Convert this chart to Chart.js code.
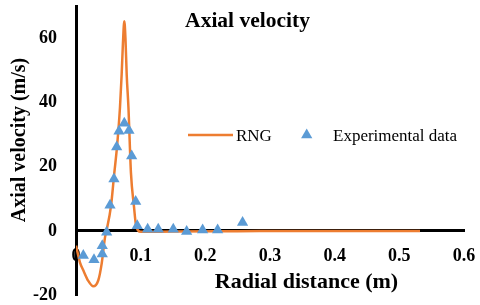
<!DOCTYPE html>
<html><head><meta charset="utf-8">
<script src="https://cdn.jsdelivr.net/npm/chart.js@4.4.1/dist/chart.umd.min.js"></script>
<style>html,body{margin:0;padding:0;background:#fff;} #wrap{width:480px;height:305px;position:relative;}</style>
</head><body><div id="wrap"><canvas id="c"></canvas></div>
<script>
const chartTitle = 'Axial velocity';
const xAxisTitle = 'Radial distance (m)';
const yAxisTitle = 'Axial velocity (m/s)';
const seriesNames = ['RNG', 'Experimental data'];
const xTickValues = [0, 0.1, 0.2, 0.3, 0.4, 0.5, 0.6];
const yTickValues = [-20, 0, 20, 40, 60];

const rngX = [0, 0.0062, 0.0113, 0.019, 0.0267, 0.0345, 0.0397, 0.0448, 0.0471, 0.0541, 0.0592, 0.0634, 0.068, 0.0706, 0.0726, 0.0747, 0.0765, 0.0784, 0.0811, 0.085, 0.0896, 0.0927, 0.0958, 0.1005, 0.15, 0.25, 0.35, 0.45, 0.532];
const rngY = [-4.6, -9.9, -12.3, -15.6, -17.3, -15.4, -10.2, -2.1, 0, 7.7, 18, 26.2, 38.5, 48.8, 58.6, 65.4, 60, 48.8, 38.5, 18, 7.7, 1.8, 0.2, -0.3, -0.2, -0.1, 0, 0, 0];

const expX = [0.0113, 0.0278, 0.0406, 0.0406, 0.0474, 0.0526, 0.0587, 0.0629, 0.0665, 0.0747, 0.0819, 0.0861, 0.0923, 0.0947, 0.1108, 0.1272, 0.1504, 0.1711, 0.1958, 0.2190, 0.2576];
const expY = [-7.7, -9.0, -7.2, -4.6, -0.4, 8.0, 16.2, 26.2, 31.1, 33.6, 31.3, 23.4, 9.2, 1.6, 0.5, 0.5, 0.5, -0.2, 0.3, 0.3, 2.6];

const orange = '#ED7D31';
const blue = '#5B9BD5';
const serif = '"Liberation Serif", "Times New Roman", serif';

const overlay = {
  id: 'overlay',
  afterDraw(chart) {
    const ctx = chart.ctx;
    ctx.save();
    ctx.fillStyle = '#000';
    ctx.textBaseline = 'alphabetic';
    // chart title
    ctx.font = 'bold 21.5px ' + serif;
    ctx.textAlign = 'center';
    ctx.fillText(chartTitle, 247.5, 27);
    // x axis title
    ctx.font = 'bold 22px ' + serif;
    ctx.fillText(xAxisTitle, 306.5, 288);
    // y axis title
    ctx.save();
    ctx.translate(25, 140);
    ctx.rotate(-Math.PI / 2);
    ctx.font = 'bold 20px ' + serif;
    ctx.fillText(yAxisTitle, 0, 0);
    ctx.restore();
    // legend
    ctx.strokeStyle = orange;
    ctx.lineWidth = 2.5;
    ctx.beginPath();
    ctx.moveTo(188, 135); ctx.lineTo(233, 135);
    ctx.stroke();
    ctx.font = '17px ' + serif;
    ctx.textAlign = 'left';
    ctx.fillText(seriesNames[0], 236, 141);
    ctx.fillText(seriesNames[1], 333, 141);
    ctx.fillStyle = blue;
    const r = 6.5, cx = 306.7, cy = 135;
    ctx.beginPath();
    ctx.moveTo(cx, cy - r);
    ctx.lineTo(cx + Math.sin(2*Math.PI/3) * r, cy - Math.cos(2*Math.PI/3) * r);
    ctx.lineTo(cx + Math.sin(4*Math.PI/3) * r, cy - Math.cos(4*Math.PI/3) * r);
    ctx.closePath();
    ctx.fill();
    ctx.restore();
  }
};

new Chart(document.getElementById('c'), {
  type: 'scatter',
  data: {
    datasets: [
      {
        label: seriesNames[0],
        data: rngX.map((x, i) => ({x: x, y: rngY[i]})),
        showLine: true,
        borderColor: orange,
        backgroundColor: orange,
        borderWidth: 2.5,
        pointRadius: 0,
        cubicInterpolationMode: 'monotone',
        order: 2
      },
      {
        label: seriesNames[1],
        data: expX.map((x, i) => ({x: x, y: expY[i]})),
        showLine: false,
        pointStyle: 'triangle',
        pointRadius: 6.5,
        pointBackgroundColor: blue,
        pointBorderColor: blue,
        pointBorderWidth: 0,
        order: 1
      }
    ]
  },
  options: {
    responsive: true,
    maintainAspectRatio: false,
    animation: false,
    devicePixelRatio: 1,
    layout: { padding: { left: 0, right: 16, top: 3, bottom: 10 } },
    plugins: { legend: { display: false }, tooltip: { enabled: false }, title: { display: false, text: chartTitle } },
    scales: {
      x: {
        type: 'linear',
        position: { y: 0 },
        min: 0, max: 0.6,
        grid: { display: false },
        border: { display: true, color: '#000', width: 3 },
        afterBuildTicks: s => { s.ticks = xTickValues.map(v => ({value: v})); },
        afterFit: s => { s.paddingLeft = 0; s.paddingRight = 0; },
        ticks: {
          autoSkip: false, maxRotation: 0, padding: 7, color: '#000',
          font: { family: serif, size: 18, weight: 'bold' },
          callback: v => String(v)
        },
        title: { display: false, text: xAxisTitle }
      },
      y: {
        type: 'linear',
        position: 'left',
        min: -20, max: 70,
        grid: { display: false },
        border: { display: true, color: '#000', width: 3 },
        afterBuildTicks: s => { s.ticks = yTickValues.map(v => ({value: v})); },
        afterFit: s => { s.width = 76; s.paddingTop = 0; s.paddingBottom = 0; },
        ticks: {
          padding: 11, color: '#000',
          font: { family: serif, size: 18, weight: 'bold' },
          callback: v => String(v)
        },
        title: { display: false, text: yAxisTitle }
      }
    }
  },
  plugins: [overlay]
});
</script>
</body></html>
